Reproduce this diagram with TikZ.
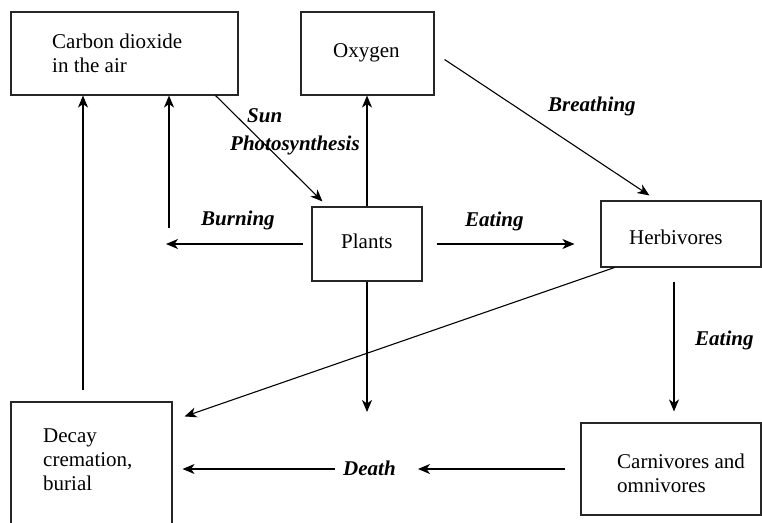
\documentclass[tikz,border=0pt]{standalone}
\usepackage{fontspec}
\setmainfont{Liberation Serif}
\usetikzlibrary{arrows.meta, positioning, calc}

\begin{document}
\begin{tikzpicture}[
    x=1pt, y=1pt,
    stock/.style={
        rectangle, draw=black!85, line width=1.1pt, inner sep=0pt
    },
    stocktext/.style={
        font=\fontsize{21}{24}\selectfont, align=left,
        anchor=base west, inner sep=0pt
    },
    process/.style={
        font=\fontsize{21}{24}\selectfont\bfseries\itshape,
        anchor=base west, inner sep=0pt
    },
    flow/.style={
        -{Stealth[length=12pt, width=10pt, inset=3.5pt]}, line width=1.1pt
    }
]
\useasboundingbox (0,0) rectangle (762,522);

% Boxes
\node[stock, minimum width=227pt, minimum height=83pt] (co2) at (124.5,468.5) {};
\node[stock, minimum width=133pt, minimum height=83pt] (oxygen) at (367.5,468.5) {};
\node[stock, minimum width=110pt, minimum height=74pt] (plants) at (367,278) {};
\node[stock, minimum width=160pt, minimum height=66pt] (herb) at (681,288) {};
\node[stock, minimum width=161pt, minimum height=128pt] (decay) at (91.5,56) {};
\node[stock, minimum width=180pt, minimum height=92pt] (carn) at (671,53) {};

% Box texts (base = last line)
\node[stocktext] (co2 text) at (52,449) {Carbon dioxide\\in the air};
\node[stocktext] (oxygen text) at (333,464) {Oxygen};
\node[stocktext] (plants text) at (341,273) {Plants};
\node[stocktext] (herb text) at (629,277) {Herbivores};
\node[stocktext] (decay text) at (43,32) {Decay\\cremation,\\burial};
\node[stocktext] (carn text) at (617,30) {Carnivores and\\omnivores};

% Process labels
\node[process] (sun) at (247,399) {Sun};
\node[process] (photo) at (230,371) {Photosynthesis};
\node[process] (breathing) at (548,410) {Breathing};
\node[process] (burning) at (201,296) {Burning};
\node[process] (eating top) at (465,295) {Eating};
\node[process] (eating right) at (695,176) {Eating};
\node[process] (death) at (343,47) {Death};

% Free ends
\coordinate (decay up) at (83,132);
\coordinate (burn up) at (169,294);
\coordinate (burn end) at (166,278);
\coordinate (death drop) at (367,110);
\coordinate (carn in) at (674,240);
\coordinate (death right) at (418,53);
\coordinate (death left) at (335,53);

% Flows
\draw[flow] (decay up) -- (decay up |- co2.south);
\draw[flow] (burn up) -- (burn up |- co2.south);
\draw[flow] ([xshift=-8pt]plants.west) -- (burn end);
\draw[flow] ([xshift=-23pt]co2.south east)
    -- ([xshift=11pt, yshift=5pt]plants.north west);
\draw[flow] (plants.north) -- (plants.north |- oxygen.south);
\draw[flow] (plants.south) -- (death drop);
\draw[flow] ([xshift=10pt, yshift=-6pt]oxygen.east)
    -- ([xshift=49pt, yshift=5pt]herb.north west);
\draw[flow] ([xshift=14pt]plants.east)
    -- ($(plants.east -| herb.west)+(-26,0)$);
\draw[flow] ([xshift=14pt]herb.south west)
    -- ([xshift=12pt, yshift=-15pt]decay.north east);
\draw[flow] (carn in) -- ($(carn in |- carn.north)+(0,11)$);
\draw[flow] ([xshift=-15pt]carn.west) -- (death right);
\draw[flow] (death left) -- ($(decay.east |- death left)+(10,0)$);

\end{tikzpicture}
\end{document}
